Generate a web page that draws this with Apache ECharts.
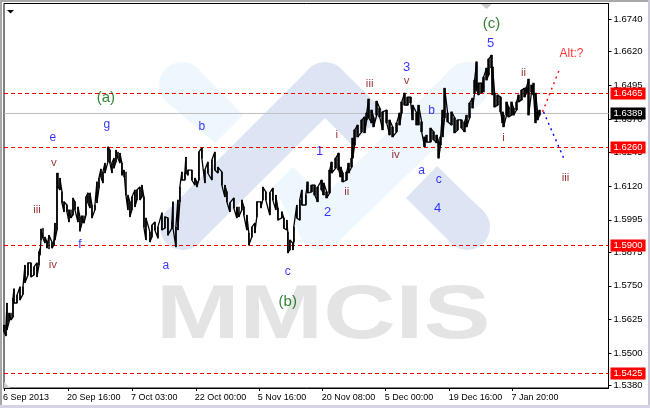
<!DOCTYPE html>
<html>
<head>
<meta charset="utf-8">
<style>
  html, body { margin: 0; padding: 0; background: #fff; }
  #main { width: 650px; height: 408px; }
</style>
<script src="https://cdn.jsdelivr.net/npm/echarts@6/dist/echarts.min.js"></script>
</head>
<body>
<div id="main"></div>
<script>
// bar number on the time axis, then the high and low of that bar
const barNumbers = [4,6,7,9,11,13,14,17,20,23,25,28,31,34,37,39,40,41,43,45,47,49,52,54,55,57,58,60,62,64,67,69,71,73,75,78,80,82,84,86,88,90,92,95,97,99,
  101,103,105,108,110,112,114,116,118,120,122,124,126,128,130,132,135,137,140,142,144,146,150,152,155,158,162,165,168,172,173,176,178,180,182,185,186,188,192,195,197,199,
  202,205,208,212,215,218,222,225,227,230,234,237,239,242,244,247,249,252,255,257,261,263,266,270,273,276,278,282,284,287,288,290,293,294,297,
  300,302,306,308,312,315,318,322,324,327,330,332,336,339,341,343,347,349,352,353,355,358,362,365,367,369,372,374,377,380,383,387,390,393,397,
  400,402,405,408,411,413,417,419,422,425,427,431,434,437,439,441,443,445,448,452,455,458,462,465,467,470,473,475,477,479,482,484,487,489,492,493,495,498,
  501,503,504,507,509,512,514,517,519,522,525,527,529,532,534,536,538,540];
const barHighs = [1.5604,1.5604,1.5686,1.5649,1.5649,1.5704,1.5739,1.5715,1.5746,1.5746,1.5827,1.5835,1.5835,1.5820,1.5835,1.5876,1.5887,1.5961,1.5964,1.5931,1.5913,1.5938,1.5913,1.5920,1.5983,1.6169,1.6169,1.6150,1.6099,1.6062,1.6050,1.6032,1.6032,1.6076,1.6062,1.6043,1.6006,1.6010,1.6010,1.6080,1.6095,1.6095,1.6050,1.6050,1.6136,1.6150,
  1.6184,1.6173,1.6206,1.6266,1.6254,1.6206,1.6224,1.6254,1.6247,1.6243,1.6206,1.6180,1.6173,1.6087,1.6062,1.6080,1.6106,1.6106,1.6117,1.6124,1.6080,1.6002,1.5950,1.5975,1.5987,1.5968,1.6021,1.6006,1.6002,1.5987,1.6062,1.5968,1.6069,1.6117,1.6173,1.6169,1.6228,1.6180,1.6180,1.6150,1.6136,1.6247,
  1.6262,1.6180,1.6210,1.6217,1.6247,1.6191,1.6173,1.6124,1.6099,1.6058,1.6076,1.6043,1.6043,1.6069,1.6043,1.6013,1.5946,1.5968,1.5983,1.6062,1.6062,1.6117,1.6099,1.6095,1.6113,1.6087,1.6039,1.6025,1.6002,1.5994,1.5950,1.5920,1.5909,1.5968,1.6050,
  1.6069,1.6106,1.6087,1.6136,1.6124,1.6124,1.6117,1.6143,1.6132,1.6099,1.6180,1.6210,1.6224,1.6243,1.6191,1.6169,1.6173,1.6206,1.6224,1.6299,1.6329,1.6347,1.6366,1.6377,1.6392,1.6444,1.6403,1.6374,1.6436,1.6410,1.6396,1.6403,1.6366,1.6340,1.6355,
  1.6392,1.6433,1.6466,1.6451,1.6451,1.6421,1.6392,1.6421,1.6359,1.6303,1.6310,1.6336,1.6322,1.6310,1.6284,1.6303,1.6403,1.6484,1.6392,1.6396,1.6374,1.6366,1.6366,1.6359,1.6384,1.6429,1.6447,1.6514,1.6582,1.6503,1.6503,1.6525,1.6559,1.6592,1.6607,1.6563,1.6466,1.6459,
  1.6451,1.6396,1.6384,1.6433,1.6414,1.6433,1.6410,1.6433,1.6459,1.6477,1.6484,1.6488,1.6518,1.6496,1.6503,1.6466,1.6396,1.6403];
const barLows = [1.5579,1.5564,1.5586,1.5616,1.5623,1.5634,1.5686,1.5686,1.5697,1.5719,1.5761,1.5790,1.5783,1.5790,1.5783,1.5827,1.5864,1.5920,1.5927,1.5909,1.5890,1.5887,1.5890,1.5901,1.5920,1.5957,1.6117,1.6106,1.6058,1.6025,1.6025,1.5987,1.6002,1.6013,1.6032,1.5987,1.5953,1.5983,1.5983,1.6013,1.6058,1.6039,1.6002,1.6032,1.6058,1.6113,
  1.6154,1.6132,1.6169,1.6210,1.6206,1.6169,1.6187,1.6210,1.6224,1.6206,1.6161,1.6154,1.6087,1.6032,1.6006,1.6032,1.6043,1.6069,1.6069,1.6080,1.5968,1.5920,1.5913,1.5931,1.5957,1.5927,1.5957,1.5964,1.5938,1.5964,1.5968,1.5894,1.5957,1.6062,1.6143,1.6143,1.6173,1.6161,1.6143,1.6124,1.6117,1.6143,
  1.6224,1.6132,1.6169,1.6143,1.6180,1.6169,1.6124,1.6080,1.6062,1.6025,1.6039,1.6002,1.6006,1.6032,1.6013,1.5957,1.5901,1.5931,1.5946,1.6006,1.6039,1.6069,1.6069,1.6013,1.6069,1.6032,1.5994,1.6002,1.5964,1.5957,1.5872,1.5883,1.5883,1.5913,1.6002,
  1.5994,1.6050,1.6050,1.6095,1.6099,1.6087,1.6062,1.6106,1.6087,1.6076,1.6095,1.6169,1.6187,1.6180,1.6154,1.6136,1.6143,1.6169,1.6191,1.6224,1.6273,1.6303,1.6322,1.6318,1.6366,1.6374,1.6355,1.6340,1.6384,1.6377,1.6329,1.6355,1.6310,1.6303,1.6322,
  1.6347,1.6392,1.6421,1.6421,1.6429,1.6366,1.6347,1.6347,1.6322,1.6266,1.6284,1.6284,1.6292,1.6281,1.6224,1.6273,1.6303,1.6374,1.6359,1.6347,1.6318,1.6329,1.6336,1.6322,1.6340,1.6374,1.6410,1.6466,1.6477,1.6459,1.6466,1.6470,1.6514,1.6533,1.6559,1.6459,1.6414,1.6421,
  1.6396,1.6355,1.6340,1.6384,1.6377,1.6384,1.6384,1.6403,1.6433,1.6440,1.6451,1.6466,1.6384,1.6470,1.6459,1.6355,1.6366,1.6384];

const timeTickBars = [4, 68, 132, 196, 259, 323, 386, 450, 513];
const timeTickLabels = ['6 Sep 2013', '20 Sep 16:00', '7 Oct 03:00', '22 Oct 00:00', '5 Nov 16:00', '20 Nov 08:00', '5 Dec 00:00', '19 Dec 16:00', '7 Jan 20:00'];
const priceTicks = [1.674, 1.662, 1.6495, 1.637, 1.6245, 1.612, 1.5995, 1.5875, 1.575, 1.5625, 1.55, 1.538];

// horizontal levels: where the line sits, what its tag says
const levelPrices = [1.64643, 1.62637, 1.58996, 1.54241];
const levelTags = ['1.6465', '1.6260', '1.5900', '1.5425'];
const lastPrice = 1.639;
const lastTag = '1.6389';

// wave marks: bar, price, text
const greenWaves = [[106, 1.6447, '(a)'], [288, 1.569, '(b)'], [492, 1.6722, '(c)']];
const blueLetters = [[53, 1.6299, 'e'], [107, 1.6347, 'g'], [80, 1.5901, 'f'], [166, 1.5824, 'a'], [202, 1.634, 'b'], [288, 1.5802, 'c'], [422, 1.6176, 'a'], [432, 1.6399, 'b'], [439, 1.6143, 'c']];
const blueNumbers = [[320, 1.625, '1'], [328, 1.6021, '2'], [407, 1.6563, '3'], [438, 1.6036, '4'], [491, 1.6652, '5']];
const maroonWaves = [[54, 1.6206, 'v'], [37, 1.6032, 'iii'], [53, 1.5827, 'iv'], [337, 1.631, 'i'], [347, 1.6099, 'ii'], [370, 1.65, 'iii'], [407, 1.6511, 'v'], [396, 1.6236, 'iv'], [504, 1.6299, 'i'], [524, 1.6541, 'ii'], [566, 1.615, 'iii']];
const altWaves = [[572, 1.6611, 'Alt:?']];

// the two dotted continuations
const altPathBars = [543, 560];
const altPathPrices = [1.6396, 1.6555];
const mainPathBars = [544, 565];
const mainPathPrices = [1.6396, 1.6217];

const firstBar = 4;
const barCount = 606;
const FONT = '"Liberation Sans", Arial, sans-serif';

let timeNames = [];
for (let i = 0; i < barCount; i++) timeNames.push('');
timeTickBars.forEach((b, i) => { timeNames[b - firstBar] = timeTickLabels[i]; });

let candleData = [];
for (let i = 0; i < barCount; i++) candleData.push('-');
let wiggle = [];
barNumbers.forEach((b, i) => {
  const idx = b - firstBar;
  candleData[idx] = [barLows[i], barHighs[i], barLows[i], barHighs[i]];
  if (i % 2) {
    wiggle.push([idx, barLows[i]], [idx, barHighs[i]]);
  } else {
    wiggle.push([idx, barHighs[i]], [idx, barLows[i]]);
  }
});

function waveSeries (rows, color, size) {
  return {
    type: 'scatter',
    z: 6,
    symbolSize: 1,
    silent: true,
    itemStyle: { color: 'transparent' },
    label: {
      show: true,
      position: 'inside',
      color: color,
      fontSize: size,
      fontFamily: FONT,
      formatter: p => p.data[2]
    },
    data: rows.map(r => [r[0] - firstBar, r[1], r[2]])
  };
}

function pathSeries (bars, prices, color) {
  return {
    type: 'line',
    z: 5,
    symbol: 'none',
    silent: true,
    lineStyle: { color: color, width: 1.4, type: [2, 4] },
    data: bars.map((b, i) => [b - firstBar, prices[i]])
  };
}

function levelSeries (value, tag, lineStyle, background) {
  return {
    type: 'line',
    z: 2,
    symbol: 'none',
    silent: true,
    lineStyle: lineStyle,
    data: [[0, value], [barCount - 1, value]],
    endLabel: {
      show: true,
      distance: 2,
      formatter: tag,
      color: '#fff',
      fontSize: 9.5,
      fontFamily: FONT,
      backgroundColor: background,
      padding: [1, 3, 1, 3]
    }
  };
}

const levelStyle = { color: '#ff0000', width: 1, type: [4, 3] };
const lastStyle = { color: '#c0c0c0', width: 1, type: 'solid' };

// watermark logo and window edges are plain page decoration
const lightBlue = '#eef6fe';
const darkBlue = '#dde5f5';
function logoBar (points, ends, fill, z) {
  let parts = [{ type: 'polygon', z: z, silent: true, shape: { points: points }, style: { fill: fill } }];
  ends.forEach(c => {
    parts.push({ type: 'circle', z: z, silent: true, shape: { cx: c[0], cy: c[1], r: 23 }, style: { fill: fill } });
  });
  return parts;
}
const watermark = [].concat(
  logoBar([[166, 101], [198, 69], [243, 115], [215, 143]], [[182, 85]], lightBlue, -3),
  logoBar([[293, 167], [273, 187], [305, 243], [337, 243], [483, 101], [451, 69], [323, 197]], [[321, 227], [467, 85]], lightBlue, -3),
  logoBar([[167, 211], [199, 243], [325, 118], [352, 145], [385, 112], [341, 69], [309, 69]], [[183, 227], [325, 85]], darkBlue, -2),
  logoBar([[437, 166], [483, 211], [451, 243], [406, 198]], [[467, 227]], darkBlue, -2),
  [
    { type: 'text', z: -2, silent: true, x: 156, y: 355, scaleX: 1.32, style: { text: 'MMCIS', fill: '#e4e4e4', font: 'bold 76px "Liberation Sans", Arial, sans-serif', verticalAlign: 'bottom' } },
    { type: 'polygon', silent: true, shape: { points: [[7, 10], [14, 10], [10.5, 13.5]] }, style: { fill: '#000' } },
    { type: 'polygon', silent: true, shape: { points: [[481, 4], [492, 4], [486.5, 9]] }, style: { fill: '#c8c8c8' } },
    { type: 'polygon', silent: true, shape: { points: [[4, 382], [4, 388], [10, 388]] }, style: { fill: '#c8c8c8' } },
    { type: 'rect', silent: true, shape: { x: 0, y: 0, width: 2, height: 408 }, style: { fill: '#a8a8a8' } },
    { type: 'rect', silent: true, shape: { x: 0, y: 0, width: 650, height: 2 }, style: { fill: '#a8a8a8' } },
    { type: 'rect', silent: true, shape: { x: 648, y: 0, width: 2, height: 408 }, style: { fill: '#c8c8d8' } },
    { type: 'rect', silent: true, shape: { x: 0, y: 405, width: 650, height: 3 }, style: { fill: '#d4d4e4' } }
  ]
);

let myChart = echarts.init(document.getElementById('main'), null, { renderer: 'canvas' });
let option = {
  animation: false,
  backgroundColor: '#fff',
  graphic: { elements: watermark },
  grid: {
    show: true,
    left: 3.5,
    right: 41.5,
    top: 3.5,
    bottom: 20,
    borderColor: '#000',
    borderWidth: 1,
    backgroundColor: 'transparent'
  },
  xAxis: {
    type: 'category',
    boundaryGap: false,
    data: timeNames,
    axisLine: { lineStyle: { color: '#000', width: 1 } },
    axisTick: { length: 3, interval: (i, v) => v !== '', lineStyle: { color: '#000' } },
    axisLabel: {
      interval: (i, v) => v !== '',
      color: '#000',
      fontSize: 9,
      fontFamily: FONT,
      align: 'left',
      margin: 5,
      padding: [0, 0, 0, -1]
    },
    splitLine: { show: false }
  },
  yAxis: {
    type: 'value',
    position: 'right',
    min: 1.53703,
    max: 1.67986,
    axisLine: { show: true, lineStyle: { color: '#000', width: 1 } },
    axisTick: { show: true, length: 3, customValues: priceTicks, lineStyle: { color: '#000' } },
    axisLabel: {
      customValues: priceTicks,
      formatter: v => v.toFixed(4),
      color: '#000',
      fontSize: 9.5,
      fontFamily: FONT,
      margin: 5,
      padding: [0, 0, 3, 0]
    },
    splitLine: { show: false }
  },
  series: levelPrices.map((v, i) => levelSeries(v, levelTags[i], levelStyle, '#ff0000')).concat([
    levelSeries(lastPrice, lastTag, lastStyle, '#000'),
    {
      type: 'line',
      z: 3,
      symbol: 'none',
      silent: true,
      lineStyle: { color: '#000', width: 1.3 },
      data: wiggle
    },
    {
      type: 'candlestick',
      z: 4,
      silent: true,
      large: false,
      progressive: 0,
      barWidth: 2,
      itemStyle: { color: '#000', color0: '#000', borderColor: '#000', borderColor0: '#000', borderWidth: 0.5 },
      data: candleData
    },
    pathSeries(altPathBars, altPathPrices, '#ff0000'),
    pathSeries(mainPathBars, mainPathPrices, '#0000ff'),
    waveSeries(greenWaves, '#006400', 15),
    waveSeries(blueLetters, '#0000ff', 12),
    waveSeries(blueNumbers, '#0000ff', 13),
    waveSeries(maroonWaves, '#800000', 11.5),
    waveSeries(altWaves, '#ff0000', 12)
  ])
};
myChart.setOption(option);
</script>
</body>
</html>
